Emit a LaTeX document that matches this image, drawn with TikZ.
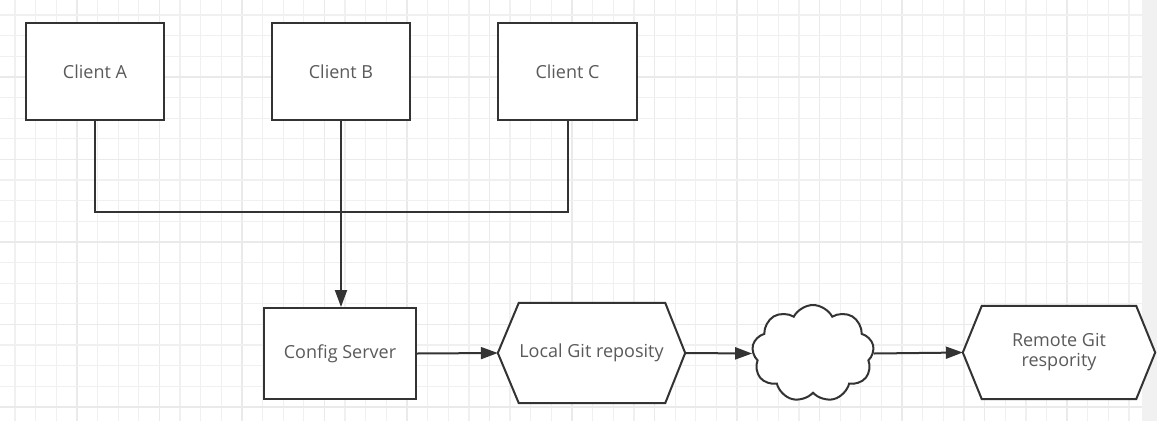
\documentclass[tikz,border=0pt]{standalone}
\usepackage{fontspec}
\setmainfont{Open Sans}
\usetikzlibrary{arrows.meta,shapes.symbols}
\definecolor{gridlight}{HTML}{F0F0F0}
\definecolor{griddark}{HTML}{EAEAEA}
\definecolor{strip}{HTML}{F1F1F1}
\definecolor{ink}{HTML}{333333}
\definecolor{txt}{HTML}{5A5A5A}
\tikzset{
  boxnode/.style={draw=ink, line width=2pt, fill=white, rectangle, inner sep=0pt,
    font=\fontsize{18}{20}\selectfont, text=txt, align=center},
  hexnode/.style={rectangle, inner sep=0pt, font=\fontsize{18}{20}\selectfont, text=txt, align=center},
  hexline/.style={draw=ink, line width=2pt, fill=white, line join=miter},
  cloudnode/.style={cloud, cloud puffs=9, cloud puff arc=125, cloud ignores aspect,
    draw=ink, line width=2pt, fill=white, inner sep=0pt},
  conn/.style={draw=ink, line width=2pt},
  arr/.style={conn, -{Triangle[length=17pt,width=12pt]}},
}
\begin{document}
\begin{tikzpicture}[x=1pt,y=-1pt]
\useasboundingbox (0,0) rectangle (1157,421);
\fill[white] (0,0) rectangle (1157,421);
% grid
\foreach \k in {0,...,54}{
  \pgfmathsetmacro{\gx}{15+20.63*\k}
  \pgfmathtruncatemacro{\m}{mod(\k,4)}
  \ifnum\m=3
    \draw[griddark, line width=1.3pt] (\gx,0) -- (\gx,421);
  \else
    \draw[gridlight, line width=1.3pt] (\gx,0) -- (\gx,421);
  \fi
}
\foreach \k in {0,...,19}{
  \pgfmathsetmacro{\gy}{15+20.63*\k}
  \pgfmathtruncatemacro{\m}{mod(\k,4)}
  \ifnum\m=3
    \draw[griddark, line width=1.3pt] (0,\gy) -- (1142,\gy);
  \else
    \draw[gridlight, line width=1.3pt] (0,\gy) -- (1142,\gy);
  \fi
}
\fill[strip] (1142,0) rectangle (1157,421);

% clients
\node[boxnode, minimum width=138pt, minimum height=97pt] (A) at (95,71.5) {Client A};
\node[boxnode, minimum width=138pt, minimum height=97pt] (B) at (341,71.5) {Client B};
\node[boxnode, minimum width=139pt, minimum height=97pt] (C) at (567.5,71.5) {Client C};

% config server
\node[boxnode, minimum width=152pt, minimum height=91pt] (config) at (340,353.5) {Config Server};

% local git hexagon
\node[hexnode, minimum width=187pt, minimum height=100pt] (local) at (591.5,353) {};
\path[hexline] (local.west) -- ([xshift=21pt]local.north west) -- ([xshift=-20pt]local.north east)
  -- (local.east) -- ([xshift=-20pt]local.south east) -- ([xshift=21pt]local.south west) -- cycle;
\node[hexnode] (localtext) at (local.center) {Local Git reposity};

% cloud
\node[cloudnode, minimum width=122pt, minimum height=97pt] (cloud) at (813,353.5) {};

% remote git hexagon
\node[hexnode, minimum width=192pt, minimum height=93pt] (remote) at (1059,352.5) {};
\path[hexline] (remote.west) -- ([xshift=19pt]remote.north west) -- ([xshift=-19pt]remote.north east)
  -- (remote.east) -- ([xshift=-19pt]remote.south east) -- ([xshift=19pt]remote.south west) -- cycle;
\node[hexnode] (remotetext) at (remote.center) {Remote Git\\respority};

% connectors
\coordinate (jA) at (95,212);
\coordinate (jC) at (567.5,212);
\draw[conn, line join=miter] (A.south) -- (jA) -- (jC) -- (C.south);
\draw[arr] (B.south) -- (B.south |- config.north);
\draw[arr] (config.east) -- (local.west);
\draw[arr] (local.east) -- (cloud.west);
\draw[arr] (cloud.east) -- (remote.west);
\end{tikzpicture}
\end{document}
